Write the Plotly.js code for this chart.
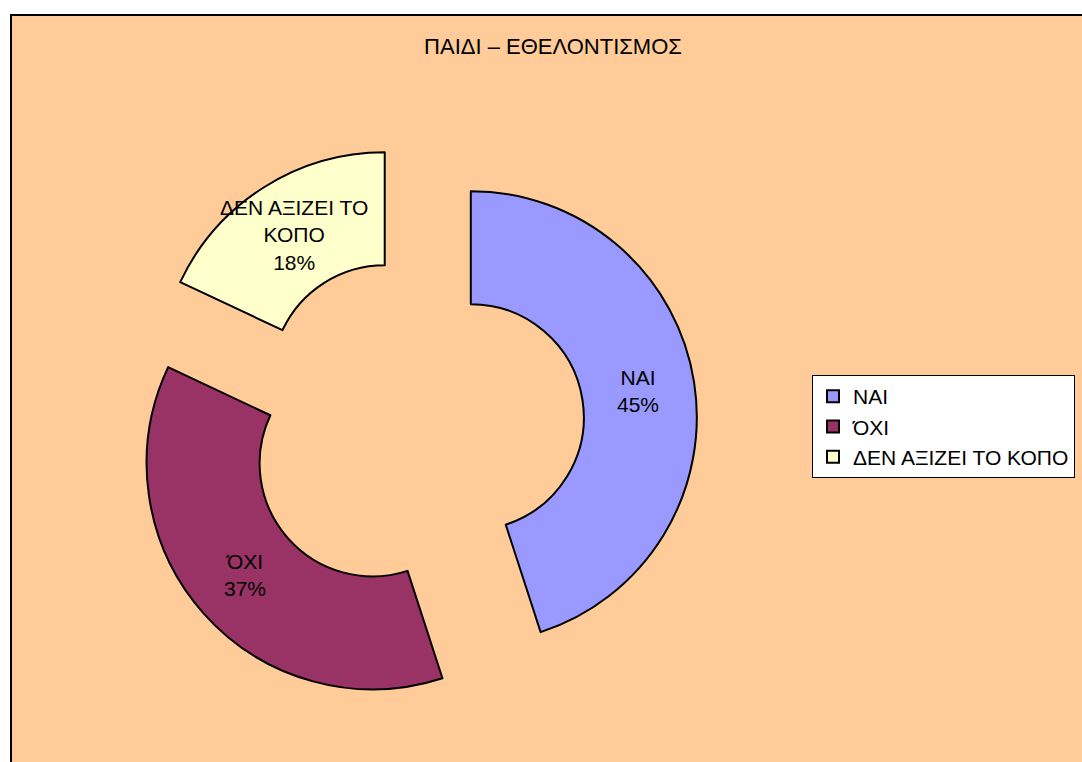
<!DOCTYPE html>
<html>
<head>
<meta charset="utf-8">
<script src="https://cdn.plot.ly/plotly-3.0.1.min.js"></script>
<style>html,body{margin:0;padding:0;background:#fff;}#chart{width:1082px;height:762px;}</style>
</head>
<body>
<div id="chart"></div>
<script>
const categories = ["ΝΑΙ", "ΌΧΙ", "ΔΕΝ ΑΞΙΖΕΙ ΤΟ ΚΟΠΟ"];
const sliceLabels = ["ΝΑΙ", "ΌΧΙ", "ΔΕΝ ΑΞΙΖΕΙ ΤΟ<br>ΚΟΠΟ"];
const values = [45, 37, 18];
const colors = ["#9999FF", "#993366", "#FFFFCC"];
const chartTitle = "ΠΑΙΔΙ – ΕΘΕΛΟΝΤΙΣΜΟΣ";

const W = 1082, H = 762;
const font = "Liberation Sans, Arial, sans-serif";

// pie geometry (pixels)
const box = {x0: 132.5, x1: 697.5, y0: 143.5, y1: 708.5};
const hole = 0.5, pullFrac = 0.25;

const trace = {
  type: "pie",
  labels: categories,
  values: values,
  textinfo: "none",
  hole: hole,
  pull: values.map(() => pullFrac),
  sort: false,
  direction: "clockwise",
  rotation: 0,
  marker: {colors: colors, line: {color: "#000", width: 2}},
  domain: {x: [box.x0 / W, box.x1 / W], y: [1 - box.y1 / H, 1 - box.y0 / H]},
  hoverinfo: "label+percent"
};

// slice labels placed at mid-ring of each pulled slice, derived from the values
const total = values.reduce((a, b) => a + b, 0);
const cx = (box.x0 + box.x1) / 2, cy = (box.y0 + box.y1) / 2;
const R = Math.min(box.x1 - box.x0, box.y1 - box.y0) / (2 * (1 + pullFrac));
const rText = pullFrac * R + R * (1 + hole) / 2;
let cum = 0;
const annotations = values.map((v, i) => {
  const th = 2 * Math.PI * (cum + v / 2) / total;
  cum += v;
  const px = cx + rText * Math.sin(th);
  const py = cy - rText * Math.cos(th);
  const pct = Math.round(100 * v / total) + "%";
  return {
    xref: "paper", yref: "paper", x: px / W, y: 1 - py / H,
    xanchor: "center", yanchor: "middle", showarrow: false,
    text: sliceLabels[i] + "<br>" + pct,
    font: {family: font, size: 21, color: "#000"}
  };
});

const layout = {
  width: W, height: H,
  margin: {l: 0, r: 0, t: 0, b: 0},
  paper_bgcolor: "#FFFFFF",
  font: {family: font, size: 21, color: "#000"},
  title: {
    text: chartTitle,
    font: {family: font, size: 22, color: "#000"},
    x: 553 / W, xref: "paper", xanchor: "center",
    y: 1 - 46 / H, yref: "paper", yanchor: "middle"
  },
  annotations: annotations,
  shapes: [{
    type: "rect", xref: "paper", yref: "paper", layer: "below",
    x0: 11 / W, x1: 1.05, y0: -0.05, y1: 1 - 15 / H,
    fillcolor: "#FFCC99", line: {color: "#000", width: 2}
  }],
  showlegend: true,
  legend: {
    x: 812 / W, xanchor: "left",
    y: 1 - 375 / H, yanchor: "top",
    bgcolor: "#FFFFFF", bordercolor: "#000", borderwidth: 1,
    font: {family: font, size: 21, color: "#000"}
  }
};

Plotly.newPlot("chart", [trace], layout, {displayModeBar: false, responsive: false});
</script>
</body>
</html>
